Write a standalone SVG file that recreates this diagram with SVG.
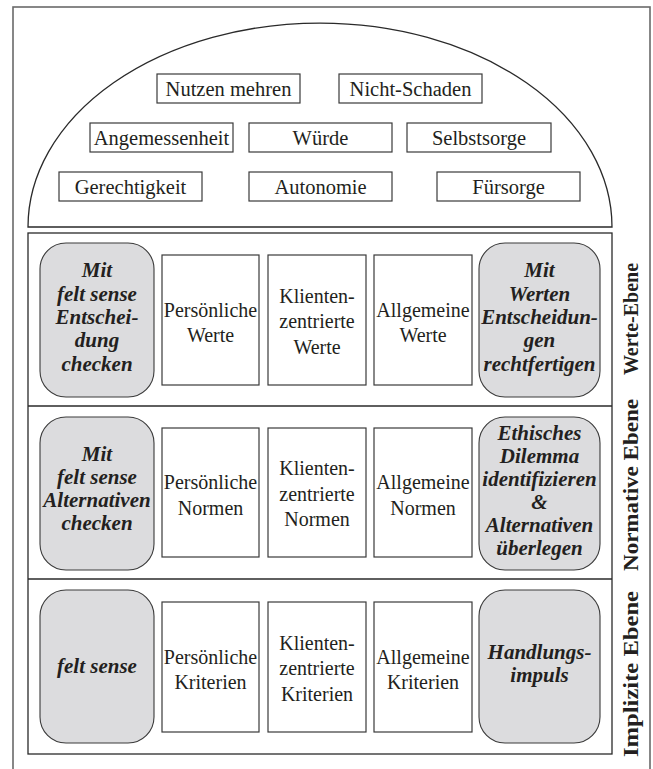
<svg xmlns="http://www.w3.org/2000/svg" width="653" height="769" viewBox="0 0 653 769">
<style>
  text { font-family: "Liberation Serif", "DejaVu Serif", serif; fill: #231f20; text-anchor: middle; }
  .p { font-size: 20.5px; }
  .t { font-size: 20px; }
  .g { font-size: 21px; font-weight: bold; font-style: italic; }
  .v { font-size: 21px; font-weight: bold; }
  .box { fill: #fff; stroke: #3a3a3a; stroke-width: 1.2; }
  .gray { fill: #dcdcde; stroke: #3a3a3a; stroke-width: 1.1; }
  .frame { fill: none; stroke: #6a6a6a; stroke-width: 1.6; }
  .line { fill: none; stroke: #2a2a2a; stroke-width: 1.3; }
</style>
<rect x="0" y="0" width="653" height="769" fill="#fff"/>
<rect class="frame" x="13" y="7" width="637" height="800"/>

<g id="dome">
  <path class="line" d="M28 227 A292 204 0 0 1 612 227 Z"/>
</g>
<g id="p-nutzen"><rect class="box" x="157" y="74" width="143" height="29"/><text class="p" x="228.5" y="95.5">Nutzen mehren</text></g>
<g id="p-nichtschaden"><rect class="box" x="339" y="74" width="143" height="29"/><text class="p" x="410.5" y="95.5">Nicht-Schaden</text></g>
<g id="p-angemessenheit"><rect class="box" x="90" y="123" width="143" height="29"/><text class="p" x="161.5" y="144.5">Angemessenheit</text></g>
<g id="p-wuerde"><rect class="box" x="249" y="123" width="143" height="29"/><text class="p" x="320.5" y="144.5">Würde</text></g>
<g id="p-selbstsorge"><rect class="box" x="407" y="123" width="144" height="29"/><text class="p" x="479" y="144.5">Selbstsorge</text></g>
<g id="p-gerechtigkeit"><rect class="box" x="59" y="172" width="143" height="29"/><text class="p" x="130.5" y="193.5">Gerechtigkeit</text></g>
<g id="p-autonomie"><rect class="box" x="249" y="172" width="143" height="29"/><text class="p" x="320.5" y="193.5">Autonomie</text></g>
<g id="p-fuersorge"><rect class="box" x="437" y="172" width="143" height="29"/><text class="p" x="508.5" y="193.5">Fürsorge</text></g>

<g id="levels">
  <rect class="line" x="28" y="233" width="584" height="521"/>
  <line class="line" x1="28" y1="406" x2="612" y2="406"/>
  <line class="line" x1="28" y1="579" x2="612" y2="579"/>
</g>

<!-- Werte-Ebene -->
<g id="w-left"><rect class="gray" x="40" y="243" width="114" height="154" rx="26"/>
  <text class="g"><tspan x="97" y="277.4">Mit</tspan><tspan x="97" y="300.7">felt sense</tspan><tspan x="97" y="324">Entschei-</tspan><tspan x="97" y="347.3">dung</tspan><tspan x="97" y="370.6">checken</tspan></text></g>
<g id="w-pers"><rect class="box" x="162" y="255" width="97" height="130"/>
  <text class="t"><tspan x="210.5" y="316.5">Persönliche</tspan><tspan x="210.5" y="342">Werte</tspan></text></g>
<g id="w-klient"><rect class="box" x="268" y="255" width="98" height="130"/>
  <text class="t"><tspan x="317" y="302.5">Klienten-</tspan><tspan x="317" y="328">zentrierte</tspan><tspan x="317" y="353.5">Werte</tspan></text></g>
<g id="w-allg"><rect class="box" x="374" y="255" width="98" height="130"/>
  <text class="t"><tspan x="423" y="316.5">Allgemeine</tspan><tspan x="423" y="342">Werte</tspan></text></g>
<g id="w-right"><rect class="gray" x="479" y="243" width="121" height="154" rx="26"/>
  <text class="g"><tspan x="539.5" y="277.4">Mit</tspan><tspan x="539.5" y="300.7">Werten</tspan><tspan x="539.5" y="324">Entscheidun-</tspan><tspan x="539.5" y="347.3">gen</tspan><tspan x="539.5" y="370.6">rechtfertigen</tspan></text></g>

<!-- Normative Ebene -->
<g id="n-left"><rect class="gray" x="40" y="417" width="114" height="153" rx="26"/>
  <text class="g"><tspan x="97" y="460.5">Mit</tspan><tspan x="97" y="483.8">felt sense</tspan><tspan x="97" y="507.1">Alternativen</tspan><tspan x="97" y="530.4">checken</tspan></text></g>
<g id="n-pers"><rect class="box" x="162" y="428" width="97" height="129"/>
  <text class="t"><tspan x="210.5" y="489">Persönliche</tspan><tspan x="210.5" y="514.5">Normen</tspan></text></g>
<g id="n-klient"><rect class="box" x="268" y="428" width="98" height="129"/>
  <text class="t"><tspan x="317" y="475">Klienten-</tspan><tspan x="317" y="500.5">zentrierte</tspan><tspan x="317" y="526">Normen</tspan></text></g>
<g id="n-allg"><rect class="box" x="374" y="428" width="98" height="129"/>
  <text class="t"><tspan x="423" y="489">Allgemeine</tspan><tspan x="423" y="514.5">Normen</tspan></text></g>
<g id="n-right"><rect class="gray" x="479" y="417" width="121" height="153" rx="26"/>
  <text class="g"><tspan x="539.5" y="440">Ethisches</tspan><tspan x="539.5" y="463">Dilemma</tspan><tspan x="539.5" y="486">identifizieren</tspan><tspan x="539.5" y="509">&amp;</tspan><tspan x="539.5" y="532">Alternativen</tspan><tspan x="539.5" y="555">überlegen</tspan></text></g>

<!-- Implizite Ebene -->
<g id="i-left"><rect class="gray" x="40" y="590" width="114" height="153" rx="26"/>
  <text class="g" x="97" y="673">felt sense</text></g>
<g id="i-pers"><rect class="box" x="162" y="602" width="97" height="130"/>
  <text class="t"><tspan x="210.5" y="663.5">Persönliche</tspan><tspan x="210.5" y="689">Kriterien</tspan></text></g>
<g id="i-klient"><rect class="box" x="268" y="602" width="98" height="130"/>
  <text class="t"><tspan x="317" y="649.5">Klienten-</tspan><tspan x="317" y="675">zentrierte</tspan><tspan x="317" y="700.5">Kriterien</tspan></text></g>
<g id="i-allg"><rect class="box" x="374" y="602" width="98" height="130"/>
  <text class="t"><tspan x="423" y="663.5">Allgemeine</tspan><tspan x="423" y="689">Kriterien</tspan></text></g>
<g id="i-right"><rect class="gray" x="479" y="590" width="121" height="153" rx="26"/>
  <text class="g"><tspan x="539.5" y="658.5">Handlungs-</tspan><tspan x="539.5" y="682">impuls</tspan></text></g>

<g id="level-labels">
  <text class="v" transform="translate(638 319) rotate(-90)" textLength="112" lengthAdjust="spacingAndGlyphs">Werte-Ebene</text>
  <text class="v" transform="translate(638 485) rotate(-90)" textLength="172" lengthAdjust="spacingAndGlyphs">Normative Ebene</text>
  <text class="v" transform="translate(638 674) rotate(-90)" textLength="166" lengthAdjust="spacingAndGlyphs">Implizite Ebene</text>
</g>
</svg>
